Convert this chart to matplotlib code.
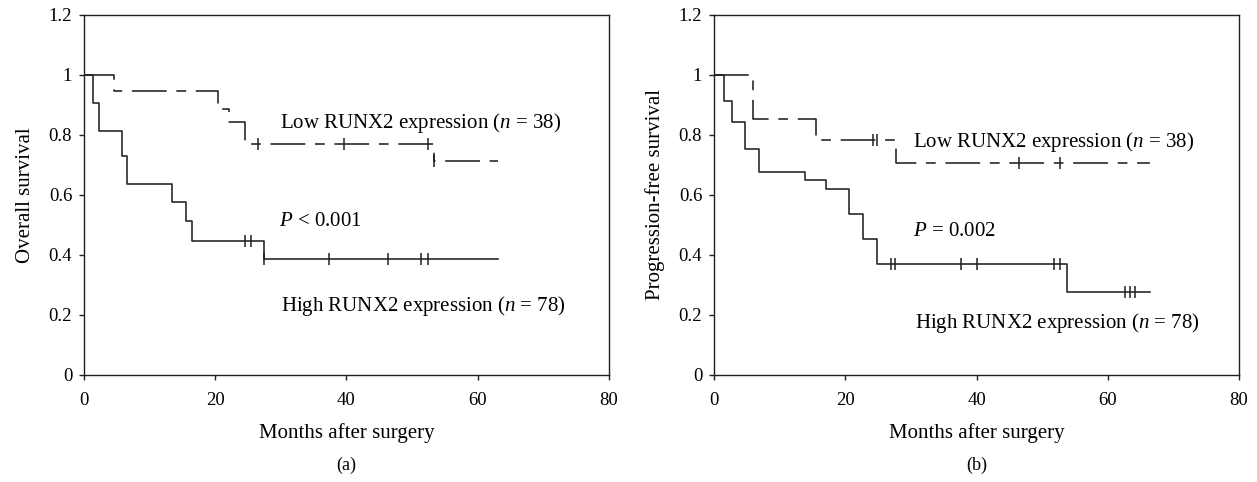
import numpy as np
import matplotlib
matplotlib.use("Agg")
import matplotlib.pyplot as plt

plt.rcParams['font.family'] = ['Liberation Serif', 'DejaVu Serif']
plt.rcParams['lines.scale_dashes'] = False
plt.rcParams['mathtext.fontset'] = 'custom'
plt.rcParams['mathtext.it'] = 'Liberation Serif:italic'
plt.rcParams['mathtext.rm'] = 'Liberation Serif'

# (a) overall survival
os_high_t = [0, 1.4, 2.3, 5.85, 6.55, 13.4, 15.5, 16.4, 27.5, 63.1]
os_high_s = [1.0, 0.908, 0.813, 0.729, 0.635, 0.575, 0.512, 0.445, 0.387, 0.387]
os_high_cens = [24.5, 25.4, 27.5, 37.4, 46.4, 51.3, 52.4]
os_low_t = [0, 4.5, 20.4, 22.1, 24.5, 53.4, 63.1]
os_low_s = [1.0, 0.946, 0.885, 0.843, 0.771, 0.714, 0.714]
os_low_cens = [26.5, 39.6, 52.4, 53.4]

# (b) progression-free survival
pfs_high_t = [0, 1.5, 2.7, 4.8, 6.9, 13.8, 17.0, 20.5, 22.7, 24.9, 53.8, 66.4]
pfs_high_s = [1.0, 0.914, 0.843, 0.753, 0.676, 0.651, 0.619, 0.536, 0.454, 0.371, 0.277, 0.277]
pfs_high_cens = [26.9, 27.6, 37.7, 40.0, 51.8, 52.7, 62.6, 63.4, 64.2]
pfs_low_t = [0, 5.9, 15.6, 27.8, 66.4]
pfs_low_s = [1.0, 0.852, 0.782, 0.705, 0.705]
pfs_low_cens = [24.2, 24.9, 46.5, 52.7]

y_ticks = [0, 0.2, 0.4, 0.6, 0.8, 1.0, 1.2]
y_labels = ['0', '0.2', '0.4', '0.6', '0.8', '1', '1.2']
x_ticks = [0, 20, 40, 60, 80]

ink = '#231f20'
dash = (0, (25, 7, 7, 7))


def km(ax, t, s, cens, ls):
    t = np.array(t)
    s = np.array(s)
    ax.step(t, s, where='post', color=ink, lw=1.15, linestyle=ls)
    idx = np.searchsorted(t, cens, side='right') - 1
    ax.plot(cens, s[idx], linestyle='none', marker='|', ms=8.5, mew=1.1, color=ink)


def panel(ax, high, low, ylabel, ptext, ypos, sub):
    km(ax, *high, '-')
    km(ax, *low, dash)
    ax.set_xlim(0, 80)
    ax.set_ylim(0, 1.2)
    ax.set_xticks(x_ticks)
    ax.set_yticks(y_ticks)
    ax.set_yticklabels(y_labels)
    ax.tick_params(direction='out', length=3.5, width=1.0, labelsize=13.5, color=ink,
                   top=False, right=False)
    ax.tick_params(axis='x', pad=9)
    ax.tick_params(axis='y', pad=5)
    for sp in ax.spines.values():
        sp.set_linewidth(1.0)
        sp.set_color(ink)
    ax.set_xlabel('Months after surgery', fontsize=15, labelpad=10)
    ax.set_ylabel(ylabel, fontsize=15, labelpad=10)
    ax.text(ypos[0][0], ypos[0][1], r'Low RUNX2 expression ($n$ = 38)', fontsize=15, va='center')
    ax.text(ypos[1][0], ypos[1][1], ptext, fontsize=15, va='center')
    ax.text(ypos[2][0], ypos[2][1], r'High RUNX2 expression ($n$ = 78)', fontsize=15, va='center')
    ax.text(0.5, -0.25, sub, transform=ax.transAxes, ha='center', va='center', fontsize=13)


fig = plt.figure(figsize=(12.57, 4.82), dpi=100)
ax1 = fig.add_axes([0.0668, 0.222, 0.4177, 0.747])
ax2 = fig.add_axes([0.568, 0.222, 0.4177, 0.747])

panel(ax1, (os_high_t, os_high_s, os_high_cens), (os_low_t, os_low_s, os_low_cens),
      'Overall survival', r'$P$ < 0.001',
      [(29.8, 0.84), (29.7, 0.51), (30.0, 0.23)], '(a)')
panel(ax2, (pfs_high_t, pfs_high_s, pfs_high_cens), (pfs_low_t, pfs_low_s, pfs_low_cens),
      'Progression-free survival', r'$P$ = 0.002',
      [(30.3, 0.775), (30.3, 0.478), (30.6, 0.172)], '(b)')

fig.savefig('out.png', dpi=100)
